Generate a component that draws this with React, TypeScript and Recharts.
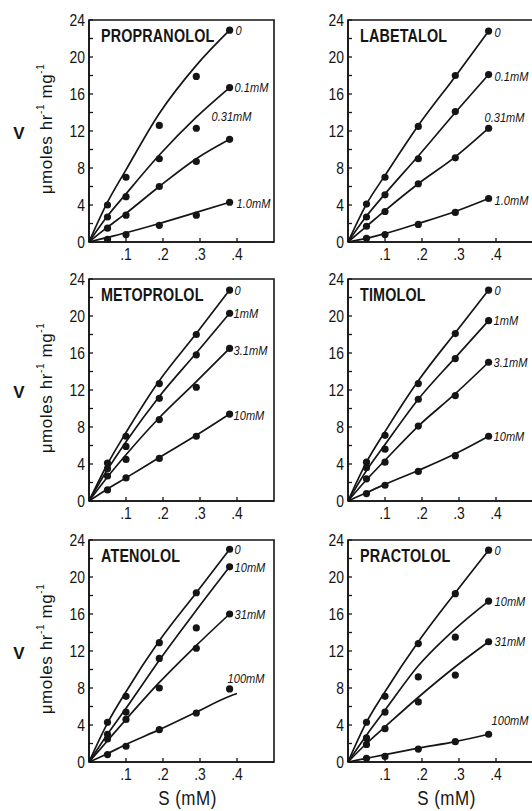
import { LineChart, Line, XAxis, YAxis, ReferenceArea, LabelList } from 'recharts'

// six inhibition panels: V vs S at several beta-blocker concentrations

const INK = '#151515'
const FONT = '"Liberation Sans", Arial, sans-serif'
const SQUEEZE = 0.82 // Liberation Sans squeezed to a narrow face

const S_POINTS = [0.05, 0.1, 0.19, 0.29, 0.38]
const S_CURVE = [0, 0.05, 0.1, 0.19, 0.29, 0.38]
const S_CURVE_LONG = [0, 0.05, 0.1, 0.19, 0.29, 0.38, 0.4]
const X_TICKS = [0.1, 0.2, 0.3, 0.4]
const Y_TICKS = [0, 2, 4, 6, 8, 10, 12, 14, 16, 18, 20, 22, 24]

// Propranolol
const propranololLabels = ['0', '0.1mM', '0.31mM', '1.0mM']
const propranololPoints = [
  [4.0, 7.0, 12.6, 17.9, 22.9],
  [2.7, 4.9, 9.0, 12.3, 16.7],
  [1.5, 2.9, 6.0, 8.7, 11.1],
  [0.3, 0.8, 1.8, 2.9, 4.3],
]
const propranololCurves = [
  [0, 4.3, 7.8, 13.9, 19.1, 22.9],
  [0, 2.8, 5.2, 9.4, 13.5, 16.7],
  [0, 1.6, 3.1, 6.0, 9.0, 11.1],
  [0, 0.5, 1.0, 2.0, 3.2, 4.3],
]

// Labetalol
const labetalolLabels = ['0', '0.1mM', '0.31mM', '1.0mM']
const labetalolPoints = [
  [4.1, 7.0, 12.5, 18.0, 22.8],
  [2.7, 5.1, 9.0, 14.1, 18.1],
  [1.7, 3.3, 6.3, 9.1, 12.3],
  [0.4, 0.8, 1.9, 3.2, 4.7],
]
const labetalolCurves = [
  [0, 4.1, 7.2, 12.6, 17.9, 22.8],
  [0, 2.8, 5.2, 9.3, 14.0, 18.1],
  [0, 1.7, 3.4, 6.3, 9.2, 12.3],
  [0, 0.4, 0.9, 2.0, 3.3, 4.7],
]

// Metoprolol
const metoprololLabels = ['0', '1mM', '3.1mM', '10mM']
const metoprololPoints = [
  [4.1, 7.0, 12.7, 18.0, 22.8],
  [3.5, 5.9, 11.1, 15.8, 20.3],
  [2.7, 4.5, 8.8, 12.3, 16.5],
  [1.2, 2.5, 4.6, 7.0, 9.4],
]
const metoprololCurves = [
  [0, 4.0, 7.4, 13.0, 18.1, 22.8],
  [0, 3.4, 6.4, 11.3, 16.0, 20.3],
  [0, 2.6, 5.0, 9.0, 12.9, 16.5],
  [0, 1.3, 2.5, 4.7, 7.1, 9.4],
]

// Timolol
const timololLabels = ['0', '1mM', '3.1mM', '10mM']
const timololPoints = [
  [4.2, 7.1, 12.7, 18.1, 22.8],
  [3.6, 5.6, 11.0, 15.4, 19.5],
  [2.4, 4.2, 8.1, 11.4, 15.0],
  [0.8, 1.7, 3.2, 4.9, 7.0],
]
const timololCurves = [
  [0, 4.2, 7.5, 13.0, 18.2, 22.8],
  [0, 3.3, 6.1, 11.0, 15.5, 19.5],
  [0, 2.3, 4.4, 8.1, 11.6, 15.0],
  [0, 0.9, 1.8, 3.3, 5.1, 7.0],
]

// Atenolol (the 100mM fit runs a little past the last point)
const atenololLabels = ['0', '10mM', '31mM', '100mM']
const atenololPoints = [
  [4.3, 7.1, 12.9, 18.3, 23.0],
  [3.0, 5.4, 11.2, 14.5, 21.1],
  [2.5, 4.6, 8.0, 12.3, 16.0],
  [0.8, 1.7, 3.5, 5.3, 7.9],
]
const atenololCurves = [
  [0, 4.2, 7.6, 13.1, 18.3, 23.0],
  [0, 3.0, 5.8, 11.0, 16.4, 21.1],
  [0, 2.3, 4.6, 8.6, 12.6, 16.0],
  [0, 0.9, 1.9, 3.5, 5.4, 7.1, 7.4],
]

// Practolol
const practololLabels = ['0', '10mM', '31mM', '100mM']
const practololPoints = [
  [4.3, 7.1, 12.8, 18.2, 22.9],
  [2.6, 5.4, 9.2, 13.5, 17.4],
  [1.9, 3.6, 6.5, 9.4, 13.0],
  [0.4, 0.6, 1.4, 2.2, 3.0],
]
const practololCurves = [
  [0, 4.3, 7.6, 13.0, 18.3, 22.9],
  [0, 2.9, 5.6, 10.4, 14.4, 17.4],
  [0, 2.0, 3.8, 7.0, 10.3, 13.0],
  [0, 0.4, 0.8, 1.5, 2.2, 3.0],
]

const PLOT_W = 185
const PLOT_H = 222
const ROW_TOP = [19.5, 279, 539.5]
const TOP_PAD = 12

type PanelCfg = {
  title: string
  labels: string[]
  points: number[][]
  curves: number[][]
  curveX: number[][]
  offsets: number[][]
  col: number
  row: number
}

function buildRows(points: number[][], curves: number[][], curveX: number[][]) {
  const xs = Array.from(new Set([...S_POINTS, ...curveX.flat()])).sort((a, b) => a - b)
  return xs.map((s) => {
    const row: Record<string, number> = { S: s }
    points.forEach((arr, i) => {
      const k = S_POINTS.indexOf(s)
      if (k >= 0) row['p' + i] = arr[k]
    })
    curves.forEach((arr, i) => {
      const k = curveX[i].indexOf(s)
      if (k >= 0) row['c' + i] = arr[k]
    })
    return row
  })
}

// narrow-looking text: squeeze horizontally around the anchor point
function Narrow({ x, y, children, sx = SQUEEZE, ...rest }: any) {
  return (
    <text transform={`translate(${x},${y}) scale(${sx},1)`} fill={INK} fontFamily={FONT} {...rest}>
      {children}
    </text>
  )
}

const XTick = (props: any) => (
  <Narrow x={props.x} y={props.y} textAnchor="middle" dy="0.71em" fontSize={17}>
    {'.' + Math.round(props.payload.value * 10)}
  </Narrow>
)

const YTick = (props: any) => {
  const v = props.payload.value
  if (v % 4 !== 0) return <g />
  return (
    <Narrow x={props.x} y={props.y} textAnchor="end" dominantBaseline="central" fontSize={17}>
      {v}
    </Narrow>
  )
}

function Panel({ cfg }: { cfg: PanelCfg }) {
  const { title, labels, points, curves, curveX, offsets, col, row } = cfg
  const rows = buildRows(points, curves, curveX)
  const lastIdx = rows.findIndex((r) => r.S === 0.38)
  const axisW = col === 0 ? 89 : 60
  const left = col === 0 ? 0 : 288
  const xAxisH = row === 2 ? 49 : 30
  const top = ROW_TOP[row] - TOP_PAD

  const yLabel = (props: any) => {
    const vb = props.viewBox
    const cy = vb.y + vb.height / 2
    return (
      <g>
        <text x={19} y={cy + 2} textAnchor="middle" dominantBaseline="central" fontSize={17} fontWeight="bold" fill={INK} fontFamily={FONT}>
          V
        </text>
        <text
          x={46}
          y={cy - 2}
          transform={`rotate(-90 46 ${cy - 2})`}
          textAnchor="middle"
          dominantBaseline="central"
          fontSize={17}
          letterSpacing={0.6}
          fill={INK}
          fontFamily={FONT}
        >
          <tspan>μmoles hr</tspan>
          <tspan dy={-6} fontSize={10}>-1</tspan>
          <tspan dy={6}> mg</tspan>
          <tspan dy={-6} fontSize={10}>-1</tspan>
        </text>
      </g>
    )
  }

  const xLabel = (props: any) => {
    const vb = props.viewBox
    return (
      <Narrow x={vb.x + vb.width / 2 + 6} y={vb.y + 43} sx={0.85} textAnchor="middle" fontSize={20} letterSpacing={0.6}>
        S (mM)
      </Narrow>
    )
  }

  const titleLabel = (props: any) => {
    const vb = props.viewBox
    return (
      <Narrow x={vb.x + 12} y={vb.y + 22} fontSize={17.5} fontWeight="bold" letterSpacing={0.2}>
        {title}
      </Narrow>
    )
  }

  const curveLabel = (i: number) => (props: any) => {
    if (props.index !== lastIdx) return null
    const vb = props.viewBox || {}
    const x = vb.x ?? props.x
    const y = vb.y ?? props.y
    return (
      <Narrow x={x + offsets[i][0]} y={y + offsets[i][1] + 4.5} fontSize={13.5} fontStyle="italic">
        {labels[i]}
      </Narrow>
    )
  }

  return (
    <div style={{ position: 'absolute', left, top }}>
      <LineChart
        width={axisW + PLOT_W + 4}
        height={TOP_PAD + PLOT_H + xAxisH}
        data={rows}
        margin={{ top: TOP_PAD, right: 4, bottom: 0, left: 0 }}
      >
        <XAxis
          type="number"
          dataKey="S"
          domain={[0, 0.5]}
          ticks={X_TICKS}
          interval={0}
          height={xAxisH}
          tickSize={-4}
          tickMargin={10}
          tick={XTick}
          axisLine={{ stroke: INK, strokeWidth: 1.6 }}
          tickLine={{ stroke: INK, strokeWidth: 1.3 }}
          label={row === 2 ? xLabel : undefined}
        />
        <YAxis
          type="number"
          domain={[0, 24]}
          ticks={Y_TICKS}
          interval={0}
          width={axisW}
          tickSize={-4}
          tickMargin={8}
          tick={YTick}
          axisLine={{ stroke: INK, strokeWidth: 1.6 }}
          tickLine={{ stroke: INK, strokeWidth: 1.3 }}
          label={col === 0 ? yLabel : undefined}
        />
        <ReferenceArea x1={0} x2={0.5} y1={0} y2={24} fill="none" stroke={INK} strokeWidth={1.6} label={titleLabel} />
        {curves.map((_, i) => (
          <Line
            key={'c' + i}
            dataKey={'c' + i}
            type="monotone"
            stroke={INK}
            strokeWidth={1.7}
            dot={false}
            activeDot={false}
            isAnimationActive={false}
          />
        ))}
        {points.map((_, i) => (
          <Line
            key={'p' + i}
            dataKey={'p' + i}
            stroke="none"
            dot={{ r: 3.6, fill: INK, stroke: 'none' }}
            activeDot={false}
            isAnimationActive={false}
          >
            <LabelList dataKey={'p' + i} content={curveLabel(i)} />
          </Line>
        ))}
      </LineChart>
    </div>
  )
}

const PANELS: PanelCfg[] = [
  {
    title: 'PROPRANOLOL', labels: propranololLabels, points: propranololPoints, curves: propranololCurves,
    curveX: [S_CURVE, S_CURVE, S_CURVE, S_CURVE], offsets: [[6, 0], [5, 0], [-18, -23], [7, 1]], col: 0, row: 0,
  },
  {
    title: 'LABETALOL', labels: labetalolLabels, points: labetalolPoints, curves: labetalolCurves,
    curveX: [S_CURVE, S_CURVE, S_CURVE, S_CURVE], offsets: [[6, 1], [6, 2], [-4, -11], [6, 2]], col: 1, row: 0,
  },
  {
    title: 'METOPROLOL', labels: metoprololLabels, points: metoprololPoints, curves: metoprololCurves,
    curveX: [S_CURVE, S_CURVE, S_CURVE, S_CURVE], offsets: [[5, 0], [4, 0], [4, 2], [4, 1]], col: 0, row: 1,
  },
  {
    title: 'TIMOLOL', labels: timololLabels, points: timololPoints, curves: timololCurves,
    curveX: [S_CURVE, S_CURVE, S_CURVE, S_CURVE], offsets: [[6, 0], [5, 0], [5, 0], [5, 0]], col: 1, row: 1,
  },
  {
    title: 'ATENOLOL', labels: atenololLabels, points: atenololPoints, curves: atenololCurves,
    curveX: [S_CURVE, S_CURVE, S_CURVE, S_CURVE_LONG], offsets: [[5, 0], [5, 1], [5, 0], [-2, -10]], col: 0, row: 2,
  },
  {
    title: 'PRACTOLOL', labels: practololLabels, points: practololPoints, curves: practololCurves,
    curveX: [S_CURVE, S_CURVE, S_CURVE, S_CURVE], offsets: [[6, 0], [6, 0], [6, 0], [3, -14]], col: 1, row: 2,
  },
]

export default function App() {
  return (
    <div
      style={{
        position: 'absolute',
        left: 0,
        top: 0,
        width: 532,
        height: 811,
        overflow: 'hidden',
        background: '#fff',
      }}
    >
      {PANELS.map((p) => (
        <Panel key={p.title} cfg={p} />
      ))}
    </div>
  )
}
